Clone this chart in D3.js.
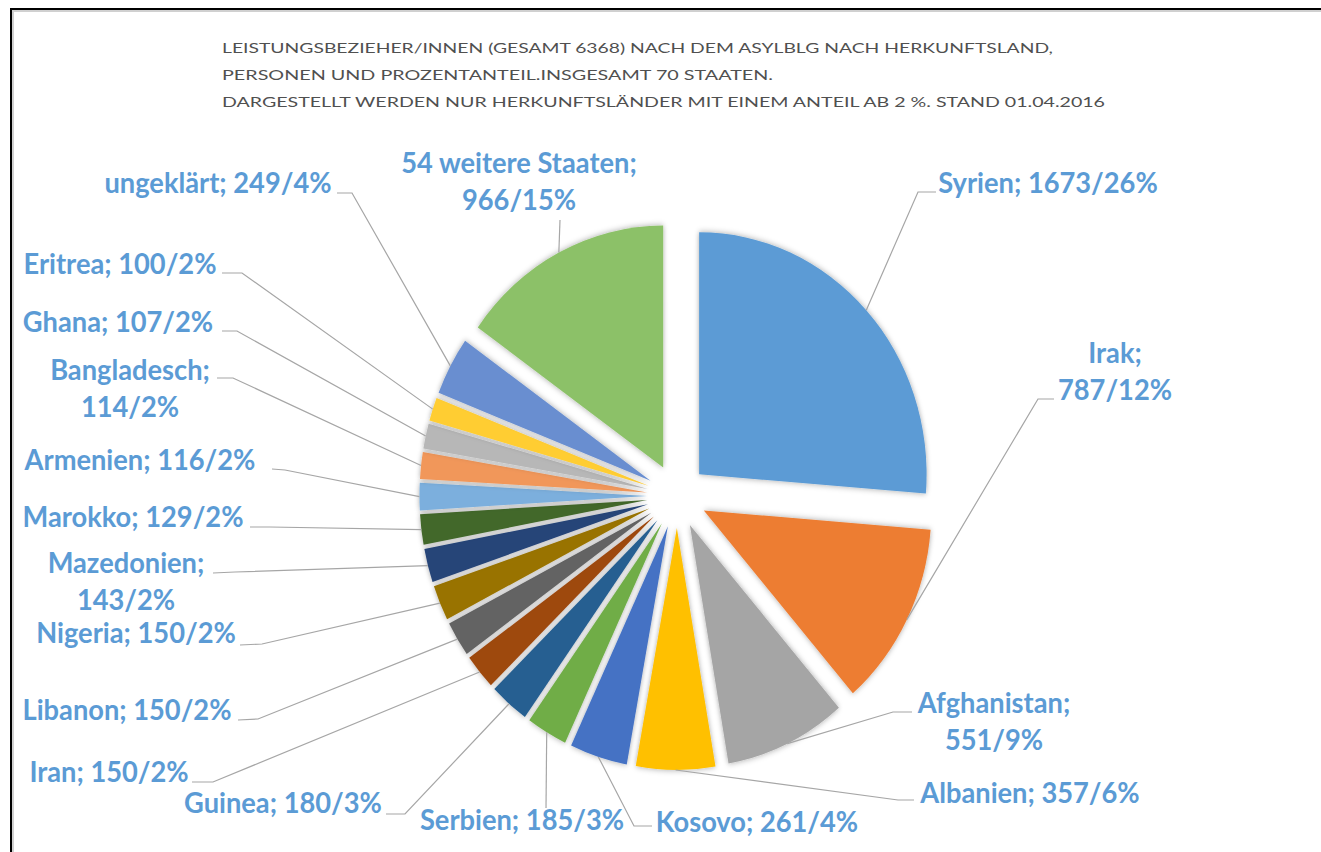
<!DOCTYPE html>
<html>
<head>
<meta charset="utf-8">
<script src="https://cdnjs.cloudflare.com/ajax/libs/d3/7.8.5/d3.min.js"></script>
<style>
  body { margin: 0; background: #fff; }
  svg { display: block; }
  .title { font-family: Lato, "Open Sans", sans-serif; font-size: 14px; fill: #505050; }
  .label { font-family: Lato, "Open Sans", sans-serif; font-weight: bold; font-size: 29px; fill: #5b9bd5; }
  .leader { fill: none; stroke: #a6a6a6; stroke-width: 1.2; }
</style>
</head>
<body>
<div class="chart"></div>
<script>
// Data (clockwise from 12 o'clock)
var countries = ["Syrien", "Irak", "Afghanistan", "Albanien", "Kosovo", "Serbien", "Guinea", "Iran",
  "Libanon", "Nigeria", "Mazedonien", "Marokko", "Armenien", "Bangladesch", "Ghana", "Eritrea",
  "ungeklärt", "54 weitere Staaten"];
var persons = [1673, 787, 551, 357, 261, 185, 180, 150, 150, 150, 143, 129, 116, 114, 107, 100, 249, 966];
var percents = [26, 12, 9, 6, 4, 3, 3, 2, 2, 2, 2, 2, 2, 2, 2, 2, 4, 15];

var titleLines = [
  "LEISTUNGSBEZIEHER/INNEN (GESAMT 6368) NACH DEM ASYLBLG NACH HERKUNFTSLAND,",
  "PERSONEN UND PROZENTANTEIL.INSGESAMT 70 STAATEN.",
  "DARGESTELLT WERDEN NUR HERKUNFTSLÄNDER MIT EINEM ANTEIL AB 2 %. STAND 01.04.2016"
];

// labels that wrap after the ";"
var wrapped = ["Irak", "Afghanistan", "Bangladesch", "Mazedonien", "54 weitere Staaten"];

var colors = ["#5b9bd5", "#ed7d31", "#a5a5a5", "#ffc000", "#4472c4", "#70ad47", "#255e91", "#9e480e",
  "#636363", "#997300", "#264478", "#43682b", "#7cafdd", "#f1975a", "#b7b7b7", "#ffcd33",
  "#698ed0", "#8cc168"];

// hand-placed label layout: text centre x, first baseline y, leader elbow and end near the text
var labelLayout = [
  { x: 1048, y: 193, elbow: [918, 192], end: [936, 192] },
  { x: 1115, y: 363, elbow: [1038, 399], end: [1054, 399] },
  { x: 994,  y: 713, elbow: [893, 712], end: [912, 712] },
  { x: 1030, y: 803, elbow: [898, 800], end: [914, 800] },
  { x: 757,  y: 832, elbow: [634, 826], end: [652, 826] },
  { x: 522,  y: 830, elbow: [546, 808], end: [546, 808] },
  { x: 283,  y: 813, elbow: [405, 814], end: [386, 814] },
  { x: 109,  y: 782, elbow: [213, 782], end: [192, 782] },
  { x: 127,  y: 720, elbow: [258, 719], end: [238, 720] },
  { x: 136,  y: 643, elbow: [262, 644], end: [240, 645] },
  { x: 126,  y: 573, elbow: [235, 572], end: [213, 573] },
  { x: 133,  y: 527, elbow: [270, 527], end: [250, 527] },
  { x: 140,  y: 470, elbow: [285, 470], end: [272, 469] },
  { x: 130,  y: 380, elbow: [233, 378], end: [217, 378] },
  { x: 118,  y: 332, elbow: [237, 331], end: [222, 331] },
  { x: 120,  y: 274, elbow: [242, 273], end: [222, 273] },
  { x: 218,  y: 193, elbow: [352, 193], end: [337, 193] },
  { x: 519,  y: 173, elbow: [560, 220], end: [560, 220] }
];

var svgWidth = 1321;
var svgHeight = 852;

var cx = 677, cy = 496;   // pie centre
var radius = 242;
var explode = 32;
var squeeze = 0.94;       // the original picture is a bit narrower than tall
var lineHeight = 37;

var svg = d3.select(".chart")
  .append("svg")
  .attr("width", svgWidth)
  .attr("height", svgHeight);

var defs = svg.append("defs");
defs.append("filter")
  .attr("id", "shadow")
  .attr("x", "-20%").attr("y", "-20%").attr("width", "140%").attr("height", "140%")
  .append("feDropShadow")
  .attr("dx", 0).attr("dy", 0)
  .attr("stdDeviation", 3)
  .attr("flood-color", "#000")
  .attr("flood-opacity", 0.35);

// frame (cut off at the right and bottom)
svg.append("rect")
  .attr("x", 11).attr("y", 9)
  .attr("width", svgWidth + 20).attr("height", svgHeight + 20)
  .attr("fill", "none").attr("stroke", "#000").attr("stroke-width", 2);
svg.append("rect")
  .attr("x", 13).attr("y", 11)
  .attr("width", svgWidth + 20).attr("height", svgHeight + 20)
  .attr("fill", "none").attr("stroke", "#d0d0d0").attr("stroke-width", 2);

// title
var titleWidths = [831, 551, 883];
svg.selectAll(".title")
  .data(titleLines)
  .enter()
  .append("text")
  .attr("class", "title")
  .attr("x", 222)
  .attr("y", (d, i) => 53 + i * 27)
  .attr("textLength", (d, i) => titleWidths[i])
  .attr("lengthAdjust", "spacingAndGlyphs")
  .text(d => d);

var data = countries.map((c, i) => ({ name: c, value: persons[i], pct: percents[i] }));

var pie = d3.pie()
  .sort(null)
  .value(d => d.value)
  .startAngle(0)
  .endAngle(2 * Math.PI);

var arcs = pie(data);

var arc = d3.arc()
  .innerRadius(0)
  .outerRadius(radius);

var edgeArc = d3.arc()
  .innerRadius(radius)
  .outerRadius(radius);

function offset(d) {
  var m = (d.startAngle + d.endAngle) / 2;
  return [explode * Math.sin(m), -explode * Math.cos(m)];
}

var pieGroup = svg.append("g")
  .attr("transform", `translate(${cx},${cy}) scale(${squeeze},1)`);

pieGroup.selectAll("path")
  .data(arcs)
  .enter()
  .append("path")
  .attr("d", arc)
  .attr("transform", d => {
    var o = offset(d);
    return `translate(${o[0]},${o[1]})`;
  })
  .attr("fill", (d, i) => colors[i])
  .attr("filter", "url(#shadow)");

// leader lines, starting at the outer edge of each slice
var line = d3.line();
svg.selectAll(".leader")
  .data(arcs)
  .enter()
  .append("path")
  .attr("class", "leader")
  .attr("d", (d, i) => {
    var o = offset(d);
    var c = edgeArc.centroid(d);
    var p = [cx + squeeze * (c[0] + o[0]), cy + c[1] + o[1]];
    var l = labelLayout[i];
    return line([p, l.elbow, l.end]);
  });

// labels
var labels = svg.selectAll(".label")
  .data(arcs)
  .enter()
  .append("text")
  .attr("class", "label")
  .attr("text-anchor", "middle")
  .attr("transform", (d, i) => `translate(${labelLayout[i].x},${labelLayout[i].y}) scale(${squeeze},1)`);

labels.each(function (d) {
  var t = d3.select(this);
  var first = d.data.name + ";";
  var second = d.data.value + "/" + d.data.pct + "%";
  if (wrapped.indexOf(d.data.name) >= 0) {
    t.append("tspan").attr("x", 0).attr("y", 0).text(first);
    t.append("tspan").attr("x", 0).attr("y", lineHeight).text(second);
  } else {
    t.append("tspan").attr("x", 0).attr("y", 0).text(first + " " + second);
  }
});
</script>
</body>
</html>
